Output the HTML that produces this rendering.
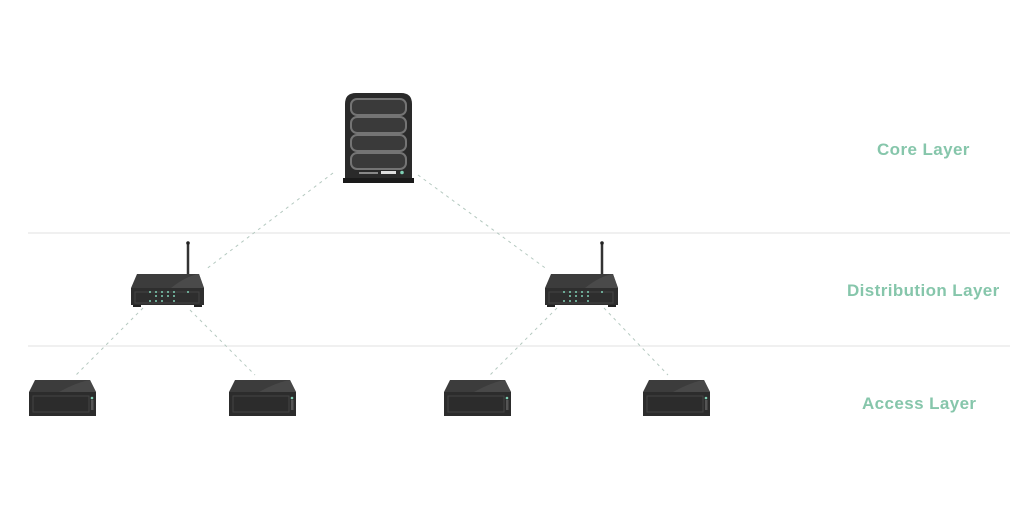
<!DOCTYPE html>
<html><head><style>
html,body{margin:0;padding:0;background:#fff;width:1024px;height:532px;overflow:hidden}
.l{position:absolute;font-family:"Liberation Sans",sans-serif;font-weight:bold;font-size:17px;letter-spacing:0.4px;color:#86c6ab;white-space:nowrap}
</style></head><body>
<svg width="1024" height="532" style="position:absolute;left:0;top:0">
<defs>
<g id="router">
<line x1="57" y1="-31" x2="57" y2="2" stroke="#333" stroke-width="2.5"/>
<circle cx="57" cy="-31" r="1.8" fill="#222"/>
<path d="M6,0 L68,0 L73,14 L73,31 L0,31 L0,14 Z" fill="#3c3c3c"/>
<path d="M40,14 Q55,2 68,0 L73,14 Z" fill="#4a4a4a"/>
<rect x="0" y="14" width="73" height="17" fill="#2e2e2e"/>
<rect x="4" y="18" width="64" height="11" fill="none" stroke="#444" stroke-width="1"/>
<g fill="#7fd0b5">
<circle cx="19" cy="18" r="1"/><circle cx="25" cy="18" r="1"/><circle cx="31" cy="18" r="1"/><circle cx="37" cy="18" r="1"/><circle cx="43" cy="18" r="1"/><circle cx="57" cy="18" r="1"/>
<circle cx="25" cy="22" r="1"/><circle cx="31" cy="22" r="1"/><circle cx="37" cy="22" r="1"/><circle cx="43" cy="22" r="1"/>
<circle cx="25" cy="27" r="1"/><circle cx="31" cy="27" r="1"/><circle cx="43" cy="27" r="1"/><circle cx="19" cy="27" r="1"/>
</g>
<rect x="2" y="31" width="8" height="2" fill="#222"/><rect x="63" y="31" width="8" height="2" fill="#222"/>
</g>
<g id="sw">
<path d="M6,0 L61,0 L67,12 L67,36 L0,36 L0,12 Z" fill="#3c3c3c"/>
<path d="M30,12 Q48,2 61,0 L67,12 Z" fill="#484848"/>
<rect x="0" y="12" width="67" height="24" fill="#2c2c2c"/>
<rect x="4" y="16" width="56" height="16" fill="none" stroke="#444"/>
<rect x="62" y="20" width="2.5" height="10" fill="#555"/>
<circle cx="63" cy="18" r="1.3" fill="#7fd0b5"/>
</g>
</defs>
<line x1="28" y1="233" x2="1010" y2="233" stroke="#e2e2e2" stroke-width="1"/>
<line x1="28" y1="346" x2="1010" y2="346" stroke="#e2e2e2" stroke-width="1"/>
<g stroke="#b5c9c0" stroke-width="1" stroke-dasharray="3,4" fill="none">
<line x1="333" y1="173" x2="205" y2="270"/>
<line x1="418" y1="175" x2="548" y2="270"/>
<line x1="143" y1="308" x2="76" y2="375"/>
<line x1="190" y1="310" x2="255" y2="375"/>
<line x1="557" y1="308" x2="490" y2="375"/>
<line x1="604" y1="308" x2="668" y2="375"/>
</g>
<path d="M345,183 L345,104 Q345,93 356,93 L401,93 Q412,93 412,104 L412,183 Z" fill="#2a2a2a"/>
<rect x="343" y="178" width="71" height="5" fill="#1a1a1a"/>
<g fill="#3a3a3a" stroke="#747474" stroke-width="2">
<rect x="351" y="99" width="55" height="16" rx="6"/>
<rect x="351" y="117" width="55" height="16" rx="6"/>
<rect x="351" y="135" width="55" height="16" rx="6"/>
<rect x="351" y="153" width="55" height="16" rx="6"/>
</g>
<rect x="359" y="172" width="19" height="2" fill="#888"/>
<rect x="381" y="171" width="15" height="3" fill="#ddd"/>
<circle cx="402" cy="172.5" r="1.8" fill="#7fd0b5"/>
<use href="#router" x="131" y="274"/>
<use href="#router" x="545" y="274"/>
<use href="#sw" x="29" y="380"/>
<use href="#sw" x="229" y="380"/>
<use href="#sw" x="444" y="380"/>
<use href="#sw" x="643" y="380"/>
</svg>
<div class="l" style="left:877px;top:140px">Core Layer</div>
<div class="l" style="left:847px;top:281px">Distribution Layer</div>
<div class="l" style="left:862px;top:394px">Access Layer</div>
</body></html>
